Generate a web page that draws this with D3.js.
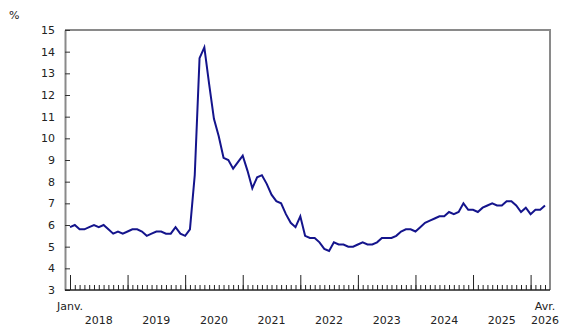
<!DOCTYPE html>
<html>
<head>
<meta charset="utf-8">
<script src="https://cdn.jsdelivr.net/npm/d3@7"></script>
<style>
  html, body { margin: 0; padding: 0; background: #fff; }
  svg { display: block; }
  text { font-family: "DejaVu Sans", Verdana, sans-serif; fill: #222; }
</style>
</head>
<body>
<svg id="chart" width="580" height="335"></svg>
<script>
// Data: monthly rate (%), January 2018 to April 2026
const years = ["2018", "2019", "2020", "2021", "2022", "2023", "2024", "2025", "2026"];
const firstMonthLabel = "Janv.";
const lastMonthLabel = "Avr.";
const values = [
  5.9, 6.0, 5.8, 5.8, 5.9, 6.0, 5.9, 6.0, 5.8, 5.6, 5.7, 5.6,   // 2018
  5.7, 5.8, 5.8, 5.7, 5.5, 5.6, 5.7, 5.7, 5.6, 5.6, 5.9, 5.6,   // 2019
  5.5, 5.8, 8.3, 13.7, 14.2, 12.5, 10.9, 10.1, 9.1, 9.0, 8.6, 8.9, // 2020
  9.2, 8.5, 7.7, 8.2, 8.3, 7.9, 7.4, 7.1, 7.0, 6.5, 6.1, 5.9,   // 2021
  6.4, 5.5, 5.4, 5.4, 5.2, 4.9, 4.8, 5.2, 5.1, 5.1, 5.0, 5.0,   // 2022
  5.1, 5.2, 5.1, 5.1, 5.2, 5.4, 5.4, 5.4, 5.5, 5.7, 5.8, 5.8,   // 2023
  5.7, 5.9, 6.1, 6.2, 6.3, 6.4, 6.4, 6.6, 6.5, 6.6, 7.0, 6.7,   // 2024
  6.7, 6.6, 6.8, 6.9, 7.0, 6.9, 6.9, 7.1, 7.1, 6.9, 6.6, 6.8,   // 2025
  6.5, 6.7, 6.7, 6.9                                            // 2026
];
const yTicks = [3, 4, 5, 6, 7, 8, 9, 10, 11, 12, 13, 14, 15];
const unitLabel = "%";

const svg = d3.select("#chart");
const mLeft = 65, mRight = 550, mTop = 30, mBottom = 290;

const x = d3.scaleLinear().domain([0, values.length - 1]).range([70, 545]);
const y = d3.scaleLinear().domain([3, 15]).range([mBottom, mTop]);

const monthIdx = d3.range(values.length);
const janIdx = years.map((_, i) => i * 12);

// frame: top and right gray lines
svg.append("line").attr("x1", mLeft).attr("x2", mRight).attr("y1", mTop).attr("y2", mTop)
  .attr("stroke", "#8a8a8a").attr("stroke-width", 2);
svg.append("line").attr("x1", mRight).attr("x2", mRight).attr("y1", mTop - 1).attr("y2", mBottom)
  .attr("stroke", "#8a8a8a").attr("stroke-width", 2);

// y axis
const yAxis = svg.append("g").attr("transform", `translate(${mLeft},0)`)
  .call(d3.axisLeft(y).tickValues(yTicks).tickSizeInner(-5).tickSizeOuter(0).tickPadding(10));
yAxis.select(".domain").attr("stroke", "#8a8a8a").attr("stroke-width", 2);
yAxis.selectAll(".tick line").attr("stroke", "#333").attr("stroke-width", 1);
yAxis.selectAll(".tick text").style("font-size", "11px").style("font-family", "DejaVu Sans, Verdana, sans-serif").attr("fill", "#222");

// x axis: minor (monthly) ticks
const xMinor = svg.append("g").attr("transform", `translate(0,${mBottom})`)
  .call(d3.axisBottom(x).tickValues(monthIdx).tickSizeInner(-5).tickSizeOuter(0).tickFormat(""));
xMinor.select(".domain").remove();
xMinor.selectAll(".tick line").attr("stroke", "#222").attr("stroke-width", 1);

// x axis: major (January) ticks
const xMajor = svg.append("g").attr("transform", `translate(0,${mBottom})`)
  .call(d3.axisBottom(x).tickValues(janIdx).tickSizeInner(-15).tickSizeOuter(0).tickFormat(""));
xMajor.select(".domain").remove();
xMajor.selectAll(".tick line").attr("stroke", "#222").attr("stroke-width", 1);

// bottom baseline
svg.append("line").attr("x1", mLeft).attr("x2", mRight).attr("y1", mBottom).attr("y2", mBottom)
  .attr("stroke", "#222").attr("stroke-width", 1.5);

// month labels
svg.append("text").attr("x", x(0)).attr("y", 310).attr("text-anchor", "middle")
  .style("font-size", "11px").text(firstMonthLabel);
svg.append("text").attr("x", x(values.length - 1)).attr("y", 310).attr("text-anchor", "middle")
  .style("font-size", "11px").text(lastMonthLabel);

// year labels
years.forEach((yr, i) => {
  const pos = (i === years.length - 1) ? values.length - 1 : i * 12 + 6;
  svg.append("text").attr("x", x(pos)).attr("y", 324).attr("text-anchor", "middle")
    .style("font-size", "11px").text(yr);
});

// unit label
svg.append("text").attr("x", 9).attr("y", 19).style("font-size", "11px").text(unitLabel);

// line
const line = d3.line().x((d, i) => x(i)).y(d => y(d));
svg.append("path").datum(values).attr("d", line)
  .attr("fill", "none").attr("stroke", "#14148c").attr("stroke-width", 2)
  .attr("stroke-linejoin", "miter");
</script>
</body>
</html>
